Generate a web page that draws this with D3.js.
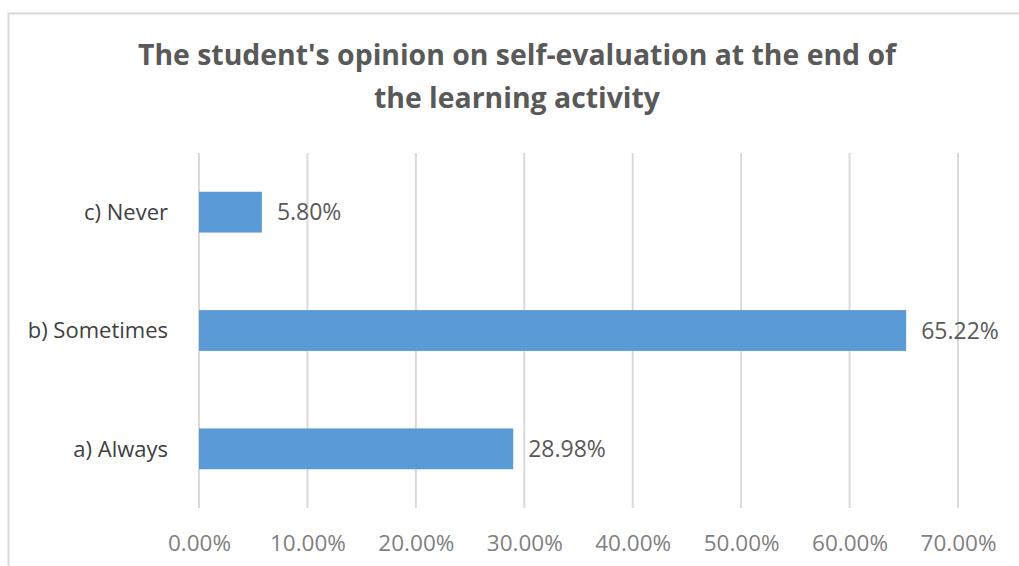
<!DOCTYPE html>
<html>
<head>
<meta charset="utf-8">
<script src="https://cdn.jsdelivr.net/npm/d3@7"></script>
<style>
  html, body { margin: 0; padding: 0; background: #fff; }
  svg { display: block; font-family: "Open Sans", sans-serif; }
</style>
</head>
<body>
<svg id="chart" width="1019" height="566"></svg>
<script>
// Survey answers: share of students for each option
const categories = ["a) Always", "b) Sometimes", "c) Never"];
const values = [28.98, 65.22, 5.80];
const tickValues = [0, 10, 20, 30, 40, 50, 60, 70];
const titleLines = ["The student's opinion on self-evaluation at the end of", "the learning activity"];

const svg = d3.select("#chart");
const W = 1019, H = 566;
const plot = { left: 199, right: 958, top: 153, bottom: 508 };

// outer chart frame
svg.append("rect")
  .attr("x", 8.5).attr("y", 13.5)
  .attr("width", W + 20).attr("height", H + 20)
  .attr("fill", "#fff").attr("stroke", "#d9d9d9").attr("stroke-width", 2);

// title
svg.append("text")
  .attr("text-anchor", "middle")
  .attr("fill", "#595959")
  .attr("font-weight", "bold")
  .attr("font-size", 28.4)
  .selectAll("tspan")
  .data(titleLines)
  .join("tspan")
  .attr("x", 517)
  .attr("y", (d, i) => 65 + i * 43)
  .text(d => d);

const x = d3.scaleLinear().domain([0, 70]).range([plot.left, plot.right]);
const y = d3.scaleBand()
  .domain(categories.slice().reverse())
  .range([plot.top, plot.bottom])
  .paddingInner(0.655)
  .paddingOuter(0.3275);

// vertical gridlines
svg.append("g")
  .selectAll("line")
  .data(tickValues)
  .join("line")
  .attr("x1", d => x(d)).attr("x2", d => x(d))
  .attr("y1", plot.top).attr("y2", plot.bottom)
  .attr("stroke", "#d9d9d9").attr("stroke-width", 2);

// x axis tick labels
const xAxis = d3.axisBottom(x)
  .tickValues(tickValues)
  .tickSize(0)
  .tickPadding(0)
  .tickFormat(d => d3.format(".2f")(d) + "%");
const gx = svg.append("g")
  .attr("transform", `translate(0,${plot.bottom + 43})`)
  .call(xAxis);
gx.select(".domain").remove();
gx.selectAll("text")
  .attr("font-family", "Open Sans, sans-serif")
  .attr("font-size", 22.5)
  .attr("fill", "#7f7f7f")
  .attr("dy", 0);

// y axis category labels
const yAxis = d3.axisLeft(y).tickSize(0).tickPadding(0);
const gy = svg.append("g")
  .attr("transform", `translate(${plot.left - 31},0)`)
  .call(yAxis);
gy.select(".domain").remove();
gy.selectAll("text")
  .attr("font-family", "Open Sans, sans-serif")
  .attr("font-size", 22)
  .attr("fill", "#404040")
  .attr("dy", "0.35em");

const rows = categories.map((c, i) => ({ c, v: values[i] }));

// bars
svg.append("g")
  .selectAll("rect")
  .data(rows)
  .join("rect")
  .attr("x", x(0))
  .attr("y", d => y(d.c))
  .attr("width", d => x(d.v) - x(0))
  .attr("height", y.bandwidth())
  .attr("fill", "#5b9bd5");

// value labels
svg.append("g")
  .selectAll("text")
  .data(rows)
  .join("text")
  .attr("x", d => x(d.v) + 15)
  .attr("y", d => y(d.c) + y.bandwidth() / 2)
  .attr("dy", "0.35em")
  .attr("font-size", 23)
  .attr("fill", "#595959")
  .text(d => d3.format(".2f")(d.v) + "%");
</script>
</body>
</html>
